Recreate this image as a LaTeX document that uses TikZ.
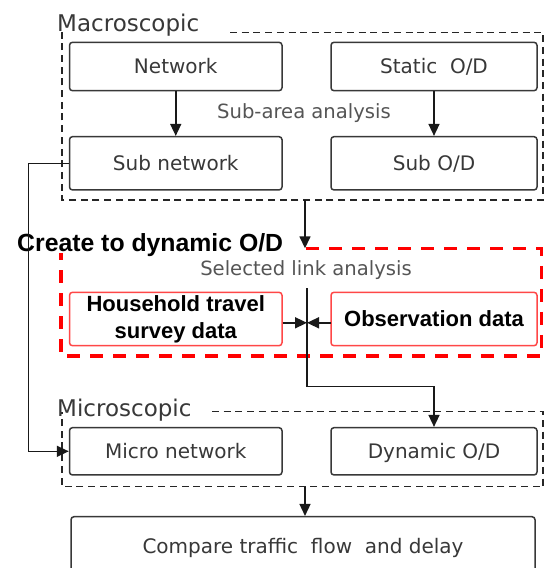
\documentclass[tikz,border=0pt]{standalone}
\usepackage{fontspec}
\setmainfont{DejaVu Sans}
\newfontfamily\lsans{Liberation Sans}
\usetikzlibrary{arrows.meta}
\definecolor{txtgray}{HTML}{383838}
\definecolor{lblgray}{HTML}{555555}
\definecolor{redline}{HTML}{FF4747}
\begin{document}
\begin{tikzpicture}[x=1pt,y=-1pt,
  box/.style={draw=txtgray, line width=1.5pt, rounded corners=3pt, inner sep=0pt,
    font=\fontsize{20}{23}\selectfont, text=txtgray, text height=14.2pt, text depth=0pt},
  redbox/.style={draw=redline, line width=1.5pt, rounded corners=3pt, inner sep=0pt,
    align=center, font=\lsans\bfseries\fontsize{22}{26.7}\selectfont, text=black},
  arr/.style={-{Triangle[length=12pt,width=11pt]}, line width=1.5pt, draw=black!90},
  blackdash/.style={draw=black!85, line width=1.2pt, dash pattern=on 7pt off 4.7pt},
  reddash/.style={draw=red, line width=3.5pt, dash pattern=on 13pt off 10pt},
  grouplabel/.style={font=\fontsize{23}{27}\selectfont, text=txtgray, inner sep=0pt},
  annot/.style={font=\fontsize{19.6}{22}\selectfont, text=lblgray, inner sep=0pt},
  title/.style={font=\lsans\bfseries\fontsize{24.8}{28}\selectfont, text=black, inner sep=0pt}
]
\clip (0,0) rectangle (545,568);
\fill[white] (0,0) rectangle (545,568);

% group frames
\draw[blackdash] (230,32.3) -- (543,32.3) -- (543,200) -- (62,200) -- (62,32.3);
\draw[blackdash] (212,411.7) -- (543,411.7) -- (543,486.7) -- (62,486.7) -- (62,411.7);
\draw[reddash] (306,248.3) -- (541.5,248.3) -- (541.5,356) -- (61,356) -- (61,253);

% labels
\node[grouplabel, anchor=base west] (macrolbl) at (57,31.7) {Macroscopic};
\node[grouplabel, anchor=base west] (microlbl) at (57,416.7) {Microscopic};
\node[annot, anchor=base] (subarea) at (304,118.3) {Sub-area analysis};
\node[annot, anchor=base] (sellink) at (306,275) {Selected link analysis};
\node[title, anchor=base west] (create) at (17,251.7) {Create to dynamic O/D};

% boxes
\node[box, minimum width=212.5pt, minimum height=48.4pt] (net) at (175.75,66.5) {Network};
\node[box, minimum width=206pt, minimum height=48.4pt] (sod) at (434,66.5) {Static\ \ O/D};
\node[box, minimum width=212.5pt, minimum height=53.3pt] (subnet) at (175.75,163.3) {Sub network};
\node[box, minimum width=206pt, minimum height=53.3pt] (subod) at (434,163.3) {Sub O/D};
\node[redbox, minimum width=212.5pt, minimum height=53.4pt] (house) at (175.75,319) {Household travel\\survey data};
\node[redbox, minimum width=206pt, minimum height=53.4pt] (obs) at (434,319) {Observation data};
\node[box, minimum width=212.5pt, minimum height=47.3pt] (micnet) at (175.75,451.3) {Micro network};
\node[box, minimum width=206pt, minimum height=47.3pt] (dynod) at (434,451.3) {Dynamic O/D};
\node[box, minimum width=464pt, minimum height=60pt] (compare) at (303,546.7) {Compare traffic\ \ flow\ \ and delay};

% connector points
\coordinate (macroS) at (305,200);
\coordinate (redN) at (305,248.3);
\coordinate (vtop) at (307,288.3);
\coordinate (vbot) at (307,386.7);
\coordinate (micS) at (305,486.7);
\coordinate (hArr) at (282.5,322.8);
\coordinate (oArr) at (331,322.8);

% connectors
\draw[arr] (net.south) -- (subnet.north);
\draw[arr] (sod.south) -- (subod.north);
\draw[arr] (subnet.west) -- ++(-40.5,0) |- (micnet.west);
\draw[arr] (macroS) -- (redN);
\draw[arr] (vtop) -- (vbot) -| (dynod.north);
\draw[arr] (hArr) -- (hArr -| vtop);
\draw[arr] (oArr) -- (oArr -| vtop);
\draw[arr] (micS) -- (micS |- compare.north);
\end{tikzpicture}
\end{document}
